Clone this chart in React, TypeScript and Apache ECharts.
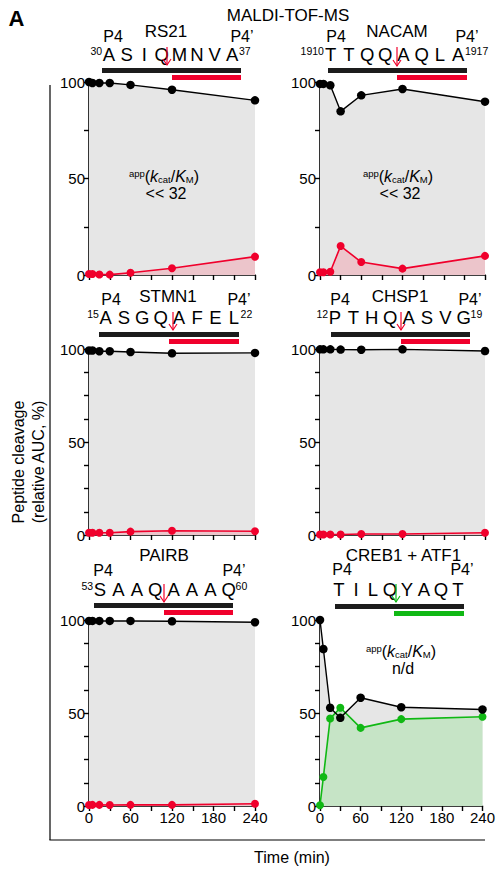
import React, { useEffect, useRef } from 'react';
import * as echarts from 'echarts';

// ---------- data ----------
const times = [0, 5, 15, 30, 60, 120, 240];

const rs21Substrate = [100, 99.5, 99.5, 99.5, 98.5, 96, 90.5];
const rs21Product = [0.5, 0.5, 0.3, 0.2, 1.2, 3.5, 9.5];
const nacamSubstrate = [99, 99, 98.3, 84.8, 93.1, 96.4, 89.8];
const nacamProduct = [1.4, 1.4, 1.7, 15, 6.7, 3.3, 9.9];
const stmn1Substrate = [99.2, 99.2, 98.8, 98.8, 98.4, 97.7, 97.9];
const stmn1Product = [1.2, 1.2, 1.2, 1.2, 1.8, 2.3, 2];
const chsp1Substrate = [99.8, 99.8, 99.8, 99.7, 99.6, 99.8, 98.9];
const chsp1Product = [0.3, 0.3, 0.3, 0.3, 0.5, 0.5, 1.2];
const pairbSubstrate = [99.5, 99.5, 99.5, 99.5, 99.5, 99.3, 98.8];
const pairbProduct = [0.5, 0.6, 0.6, 0.5, 0.6, 0.6, 1.2];
const crebSubstrate = [100, 84.4, 52.8, 47.4, 58.2, 53.1, 51.9];
const crebProduct = [0.4, 15.6, 47, 52.8, 42, 46.7, 48];

const substrates = [rs21Substrate, nacamSubstrate, stmn1Substrate, chsp1Substrate, pairbSubstrate, crebSubstrate];
const products = [rs21Product, nacamProduct, stmn1Product, chsp1Product, pairbProduct, crebProduct];

const panelNames = ['RS21', 'NACAM', 'STMN1', 'CHSP1', 'PAIRB', 'CREB1 + ATF1'];
const sequences = [
  ['A', 'S', 'I', 'Q', 'M', 'N', 'V', 'A'],
  ['T', 'T', 'Q', 'Q', 'A', 'Q', 'L', 'A'],
  ['A', 'S', 'G', 'Q', 'A', 'F', 'E', 'L'],
  ['P', 'T', 'H', 'Q', 'A', 'S', 'V', 'G'],
  ['S', 'A', 'A', 'Q', 'A', 'A', 'A', 'Q'],
  ['T', 'I', 'L', 'Q', 'Y', 'A', 'Q', 'T'],
];
const seqStartNums = ['30', '1910', '15', '12', '53', ''];
const seqEndNums = ['37', '1917', '22', '19', '60', ''];
const panelNotes = ['<< 32', '<< 32', 'uncut', 'uncut', 'uncut', 'n/d'];
const xTickLabels = [0, 60, 120, 180, 240];
const yTickLabels = [0, 50, 100];

// ---------- layout ----------
const FONT = 'Liberation Sans, Arial, Helvetica, sans-serif';
const RED = '#f0002c';
const PINK = '#ecc5cb';
const GREEN = '#10b814';
const LGREEN = '#c6e4c6';
const GRAY = '#e6e6e6';

const grids = [
  { left: 89, top: 82, width: 166, height: 193, yInt: 25 },
  { left: 320, top: 82, width: 165, height: 193, yInt: 25 },
  { left: 89, top: 349, width: 166, height: 186, yInt: 12.5 },
  { left: 320, top: 349, width: 165, height: 186, yInt: 12.5 },
  { left: 89, top: 620, width: 166, height: 186, yInt: 12.5 },
  { left: 320, top: 620, width: 165, height: 186, yInt: 12.5 },
];

const headers = [
  { tx: 166, ty: 31.5, p4: 113, p4p: 242, py: 36.5, sy: 54.5, first: 109, step: 17.6, b0: 102, b1: 241, by: 68, c0: 172, ax: 167, ay0: 47, ay1: 65 },
  { tx: 397, ty: 31.5, p4: 336, p4p: 467, py: 36.5, sy: 54.5, first: 330.7, step: 18.2, b0: 328, b1: 467, by: 68, c0: 397, ax: 397, ay0: 47, ay1: 66 },
  { tx: 168, ty: 296, p4: 111, p4p: 239, py: 299.5, sy: 317.5, first: 105.7, step: 18.3, b0: 99, b1: 239, by: 332, c0: 169, ax: 173, ay0: 312, ay1: 330 },
  { tx: 400, ty: 296, p4: 340, p4p: 470, py: 299.5, sy: 317.5, first: 335, step: 18.4, b0: 331, b1: 470, by: 332, c0: 401, ax: 401, ay0: 312, ay1: 330 },
  { tx: 164, ty: 555, p4: 103, p4p: 234, py: 570, sy: 589, first: 100, step: 18.4, b0: 94, b1: 233, by: 603, c0: 164, ax: 164, ay0: 584, ay1: 602 },
  { tx: 403.5, ty: 555, p4: 342, p4p: 462, py: 569.5, sy: 589, first: 339, step: 17, b0: 335, b1: 464, by: 604, c0: 394, ax: 396, ay0: 584, ay1: 602 },
];

const notePos = [
  { x: 164, y: 176 },
  { x: 398, y: 176 },
  { x: 170, y: 441 },
  { x: 402, y: 441 },
  { x: 170, y: 713 },
  { x: 401, y: 651 },
];

function txt(x: number, y: number, text: string, size: number, extra: any = {}) {
  return {
    type: 'text',
    x,
    y,
    silent: true,
    style: {
      text,
      fontSize: size,
      fontFamily: FONT,
      fill: '#000',
      align: 'center',
      verticalAlign: 'middle',
      ...extra,
    },
  };
}

function buildGraphics() {
  const g: any[] = [];
  g.push(txt(16.5, 18, 'A', 22, { fontWeight: 'bold' }));
  g.push(txt(288, 15, 'MALDI-TOF-MS', 17));

  headers.forEach((h, i) => {
    const accent = i === 5 ? GREEN : RED;
    g.push(txt(h.tx, h.ty, panelNames[i], 17));
    g.push(txt(h.p4, h.py, 'P4', 16));
    g.push(txt(h.p4p, h.py, 'P4\u2019', 16));
    sequences[i].forEach((s, k) => {
      g.push(txt(h.first + k * h.step, h.sy, s, 18.5));
    });
    if (seqStartNums[i]) {
      g.push(txt(h.first - 6.8, h.sy - 3.5, seqStartNums[i], 10.5, { align: 'right' }));
    }
    if (seqEndNums[i]) {
      g.push(txt(h.first + 7 * h.step + 6.8, h.sy - 3.5, seqEndNums[i], 10.5, { align: 'left' }));
    }
    g.push({ type: 'rect', silent: true, shape: { x: h.b0, y: h.by, width: h.b1 - h.b0, height: 5 }, style: { fill: '#1c1c1c' } });
    g.push({ type: 'rect', silent: true, shape: { x: h.c0, y: h.by + 7, width: h.b1 - h.c0, height: 5 }, style: { fill: accent } });
    g.push({ type: 'line', silent: true, z: 10, shape: { x1: h.ax, y1: h.ay0, x2: h.ax, y2: h.ay1 }, style: { stroke: accent, lineWidth: 1.2 } });
    g.push({
      type: 'polyline',
      silent: true,
      z: 10,
      shape: { points: [[h.ax - 4, h.ay1 - 6], [h.ax, h.ay1], [h.ax + 4, h.ay1 - 6]] },
      style: { stroke: accent, lineWidth: 1.2, fill: 'none' },
    });
  });

  const rich = {
    n: { fontSize: 16, fontFamily: FONT, fill: '#000', lineHeight: 16 },
    i: { fontSize: 16, fontFamily: FONT, fill: '#000', fontStyle: 'italic', lineHeight: 16 },
    sup: { fontSize: 9.5, fontFamily: FONT, fill: '#000', lineHeight: 8, verticalAlign: 'top' },
    sub: { fontSize: 9.5, fontFamily: FONT, fill: '#000', lineHeight: 8, verticalAlign: 'bottom' },
  };
  notePos.forEach((p, i) => {
    const note = panelNotes[i];
    if (note === 'uncut') {
      g.push(txt(p.x, p.y, note, 17));
    } else {
      g.push({
        type: 'text',
        x: p.x,
        y: p.y,
        silent: true,
        z: 10,
        style: {
          text: '{sup|app}{n|(}{i|k}{sub|cat}{n|/}{i|K}{sub|M}{n|)}',
          rich,
          align: 'center',
          verticalAlign: 'middle',
        },
      });
      g.push({ ...txt(p.x + 2, p.y + 17, note, 16), z: 10 });
    }
  });

  // bracket
  g.push({ type: 'line', silent: true, shape: { x1: 50, y1: 85, x2: 50, y2: 840 }, style: { stroke: '#000', lineWidth: 1.2 } });
  g.push({ type: 'line', silent: true, shape: { x1: 49.4, y1: 840, x2: 485, y2: 840 }, style: { stroke: '#000', lineWidth: 1.2 } });

  g.push(txt(292, 857, 'Time (min)', 16));
  g.push({
    type: 'text',
    x: 28,
    y: 462,
    rotation: Math.PI / 2,
    silent: true,
    style: {
      text: 'Peptide cleavage\n(relative AUC, %)',
      fontSize: 16,
      fontFamily: FONT,
      fill: '#000',
      align: 'center',
      verticalAlign: 'middle',
      lineHeight: 20,
    },
  });
  return g;
}

function buildOption() {
  const grid = grids.map((g) => ({ left: g.left, top: g.top, width: g.width, height: g.height, containLabel: false }));
  const axisLine = { show: true, lineStyle: { color: '#000', width: 1.6 } };
  const axisTick = { show: true, inside: false, length: 5, lineStyle: { color: '#000', width: 1.4 } };
  const xAxis = grids.map((_, i) => ({
    type: 'value',
    gridIndex: i,
    min: 0,
    max: 240,
    interval: 30,
    axisLine,
    axisTick,
    splitLine: { show: false },
    axisLabel: {
      show: i >= 4,
      fontSize: 15,
      fontFamily: FONT,
      color: '#000',
      margin: 4,
      formatter: (v: number) => (xTickLabels.includes(v) ? String(v) : ''),
    },
  }));
  const yAxis = grids.map((g, i) => ({
    type: 'value',
    gridIndex: i,
    min: 0,
    max: 100,
    interval: g.yInt,
    axisLine,
    axisTick,
    splitLine: { show: false },
    axisLabel: {
      show: true,
      fontSize: 15,
      fontFamily: FONT,
      color: '#000',
      margin: 4,
      formatter: (v: number) => (yTickLabels.includes(v) ? String(v) : ''),
    },
  }));
  const series: any[] = [];
  grids.forEach((_, i) => {
    const sub = times.map((t, k) => [t, substrates[i][k]]);
    const prod = times.map((t, k) => [t, products[i][k]]);
    const col = i === 5 ? GREEN : RED;
    const fill = i === 5 ? LGREEN : PINK;
    series.push({
      type: 'line',
      xAxisIndex: i,
      yAxisIndex: i,
      data: sub,
      symbol: 'none',
      lineStyle: { width: 0, opacity: 0 },
      areaStyle: { color: GRAY, opacity: 1 },
      silent: true,
      z: 1,
    });
    series.push({
      type: 'line',
      xAxisIndex: i,
      yAxisIndex: i,
      data: prod,
      symbol: 'circle',
      symbolSize: 8,
      clip: false,
      itemStyle: { color: col },
      lineStyle: { color: col, width: 1.6 },
      areaStyle: { color: fill, opacity: 1 },
      z: 2,
    });
    series.push({
      type: 'line',
      xAxisIndex: i,
      yAxisIndex: i,
      data: sub,
      symbol: 'circle',
      symbolSize: 8.5,
      clip: false,
      itemStyle: { color: '#000' },
      lineStyle: { color: '#000', width: 1.4 },
      z: 3,
    });
  });
  return {
    animation: false,
    backgroundColor: '#fff',
    grid,
    xAxis,
    yAxis,
    series,
    graphic: buildGraphics(),
  };
}

export default function App() {
  const ref = useRef<HTMLDivElement>(null);
  useEffect(() => {
    if (!ref.current) return;
    const chart = echarts.init(ref.current, undefined, { renderer: 'svg' });
    chart.setOption(buildOption() as any);
    return () => chart.dispose();
  }, []);
  return (
    <div
      ref={ref}
      style={{ position: 'fixed', left: 0, top: 0, width: 498, height: 871, background: '#fff' }}
    />
  );
}
